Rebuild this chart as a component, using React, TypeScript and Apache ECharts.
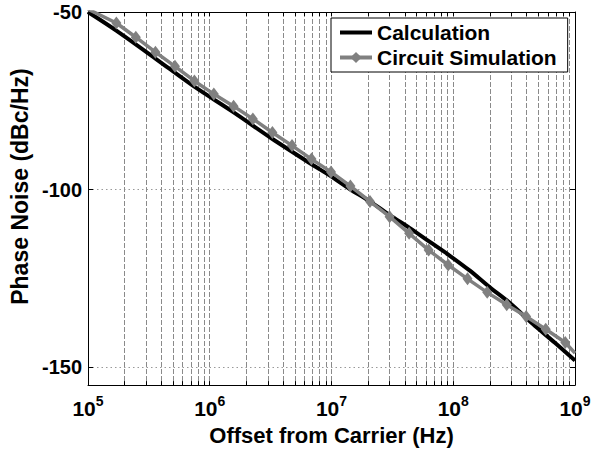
import React, { useEffect, useRef } from "react";
import * as echarts from "echarts";

// Offset frequencies (Hz) and phase noise (dBc/Hz) of the analytical model
const CALC_FREQ = [
  1e5, 1.72e5, 3.65e5, 7.53e5, 1.55e6, 3.23e6, 6.76e6, 9.86e6, 1.41e7, 2.07e7,
  3.01e7, 4.4e7, 6.42e7, 9.38e7, 1.37e8, 2.0e8, 2.92e8, 4.51e8, 6.84e8, 1e9,
];
const CALC_DB = [
  -50, -55.3, -63.3, -71.1, -78.1, -85.6, -92.7, -96.2, -99.8, -103.3,
  -107.2, -110.8, -114.7, -118.6, -122.8, -127.5, -131.9, -137.8, -143.1, -148.1,
];

// Simulated points (first and last entries only continue the trace to the frame)
const SIM_FREQ = [
  1e5, 1.71e5, 2.47e5, 3.58e5, 5.18e5, 7.48e5, 1.08e6, 1.57e6, 2.26e6, 3.27e6,
  4.74e6, 6.85e6, 9.91e6, 1.43e7, 2.07e7, 3.0e7, 4.34e7, 6.28e7, 9.08e7, 1.31e8,
  1.9e8, 2.75e8, 3.97e8, 5.75e8, 8.32e8, 1e9,
];
const SIM_DB = [
  -49.2, -53.1, -57.1, -61.3, -65.3, -69.4, -73.1, -76.5, -80.1, -83.9,
  -87.6, -91.4, -95.0, -99.0, -103.3, -107.6, -112.3, -117.0, -121.2, -125.1,
  -128.9, -132.4, -135.7, -139.3, -143.0, -146.0,
];

const Y_TICKS = [-150, -100, -50];

// Vertical grid positions (1..9 per decade)
const X_GRID = [
  2e5, 3e5, 4e5, 5e5, 6e5, 7e5, 8e5, 9e5, 1e6,
  2e6, 3e6, 4e6, 5e6, 6e6, 7e6, 8e6, 9e6, 1e7,
  2e7, 3e7, 4e7, 5e7, 6e7, 7e7, 8e7, 9e7, 1e8,
  2e8, 3e8, 4e8, 5e8, 6e8, 7e8, 8e8, 9e8,
];

const FONT = "Arial, 'Liberation Sans', Helvetica, sans-serif";

export default function App() {
  const ref = useRef<HTMLDivElement>(null);

  useEffect(() => {
    if (!ref.current) return;
    const chart = echarts.init(ref.current, undefined, { renderer: "svg" });

    const calcData = CALC_FREQ.map((f, i) => [f, CALC_DB[i]]);
    const simData = SIM_FREQ.map((f, i) => {
      const edge = i === 0 || i === SIM_FREQ.length - 1;
      return edge ? { value: [f, SIM_DB[i]], symbol: "none" } : { value: [f, SIM_DB[i]] };
    });

    chart.setOption({
      animation: false,
      backgroundColor: "#fff",
      grid: { left: 88, top: 12, width: 487, height: 378, containLabel: false },
      legend: {
        data: [
          {
            name: "Calculation",
            itemStyle: { color: "rgba(0,0,0,0)", borderWidth: 0 },
            lineStyle: { color: "#000", width: 4 },
          },
          { name: "Circuit Simulation", lineStyle: { color: "#808080", width: 4 } },
        ],
        orient: "vertical",
        left: 331,
        top: 18,
        backgroundColor: "#fff",
        borderColor: "#000",
        borderWidth: 1,
        padding: [4, 11, 4, 7],
        itemGap: 4,
        itemWidth: 32,
        itemHeight: 14,
        textStyle: { fontFamily: FONT, fontSize: 21, fontWeight: "bold", color: "#000", lineHeight: 21 },
      },
      xAxis: [
        {
          type: "log",
          logBase: 10,
          min: 1e5,
          max: 1e9,
          name: "Offset from Carrier (Hz)",
          nameLocation: "middle",
          nameGap: 34,
          nameTextStyle: { fontFamily: FONT, fontSize: 22, fontWeight: "bold", color: "#000" },
          axisLine: { show: true, onZero: false, lineStyle: { color: "#000", width: 1 } },
          axisTick: { show: true, inside: true, length: 4, customValues: X_GRID, lineStyle: { color: "#000" } },
          axisLabel: {
            margin: 9,
            formatter: (v: number) => `{b|10}{s|${Math.round(Math.log10(v))}}`,
            rich: {
              b: { fontFamily: FONT, fontSize: 21, fontWeight: "bold", color: "#000", lineHeight: 21, padding: [8, 0, 0, 0] },
              s: { fontFamily: FONT, fontSize: 14, fontWeight: "bold", color: "#000", lineHeight: 14, verticalAlign: "top" },
            },
          },
          splitLine: { show: true, lineStyle: { color: "#8a8a8a", type: [5, 2], width: 1 } },
        },
        {
          type: "log",
          logBase: 10,
          min: 1e5,
          max: 1e9,
          position: "top",
          axisLine: { show: true, onZero: false, lineStyle: { color: "#000", width: 1 } },
          axisTick: { show: true, inside: true, length: 4, customValues: X_GRID, lineStyle: { color: "#000" } },
          axisLabel: { show: false },
          splitLine: { show: false },
        },
      ],
      yAxis: [
        {
          type: "value",
          min: -155,
          max: -50,
          name: "Phase Noise (dBc/Hz)",
          nameLocation: "middle",
          nameGap: 46,
          nameTextStyle: {
            fontFamily: FONT,
            fontSize: 23,
            fontWeight: "bold",
            color: "#000",
            padding: [0, 0, 0, 24],
          },
          axisLine: { show: true, onZero: false, lineStyle: { color: "#000", width: 1 } },
          axisTick: { show: true, inside: true, length: 5, customValues: Y_TICKS, lineStyle: { color: "#000" } },
          axisLabel: {
            customValues: Y_TICKS,
            margin: 6,
            fontFamily: FONT,
            fontSize: 20,
            fontWeight: "bold",
            color: "#000",
          },
          splitLine: { show: true, lineStyle: { color: "#999", type: [1.5, 3], width: 1 } },
        },
        {
          type: "value",
          min: -155,
          max: -50,
          position: "right",
          axisLine: { show: true, onZero: false, lineStyle: { color: "#000", width: 1 } },
          axisTick: { show: true, inside: true, length: 5, customValues: Y_TICKS, lineStyle: { color: "#000" } },
          axisLabel: { show: false },
          splitLine: { show: false },
        },
      ],
      series: [
        {
          name: "Calculation",
          type: "line",
          data: calcData,
          showSymbol: false,
          symbol: "none",
          smooth: 0.3,
          clip: true,
          z: 3,
          lineStyle: { color: "#000", width: 4 },
          itemStyle: { color: "#000" },
        },
        {
          name: "Circuit Simulation",
          type: "line",
          data: simData,
          symbol: "diamond",
          symbolSize: [10, 13],
          clip: true,
          z: 4,
          lineStyle: { color: "#808080", width: 3.5 },
          itemStyle: { color: "#808080" },
        },
      ],
    });

    return () => chart.dispose();
  }, []);

  return (
    <div
      ref={ref}
      style={{ position: "absolute", left: 0, top: 0, width: 601, height: 451 }}
    />
  );
}
